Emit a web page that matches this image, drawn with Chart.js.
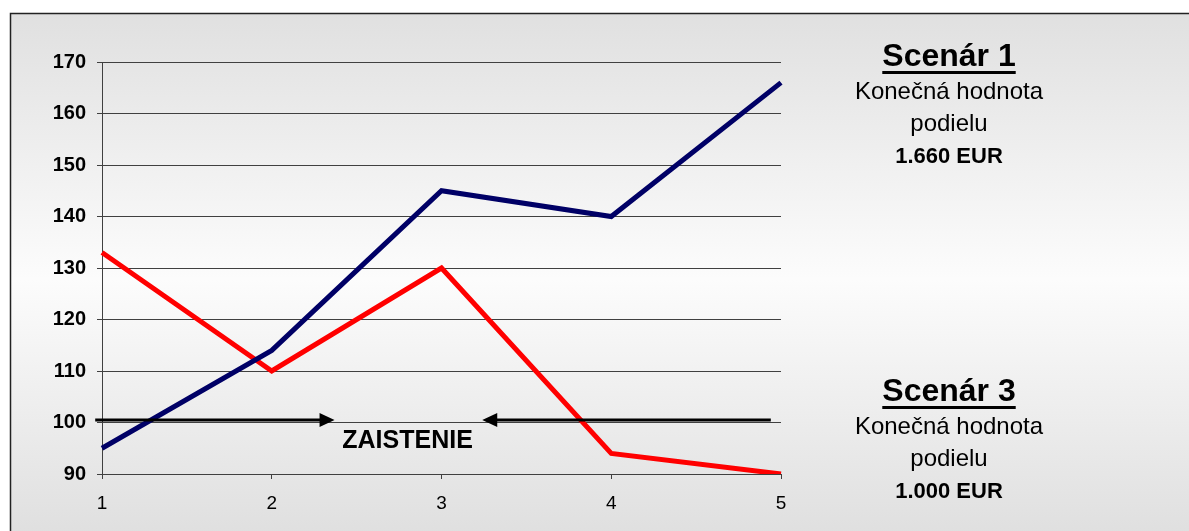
<!DOCTYPE html>
<html>
<head>
<meta charset="utf-8">
<script src="https://cdn.jsdelivr.net/npm/chart.js@4/dist/chart.umd.min.js"></script>
<style>
  body { margin: 0; background: #fff; }
  canvas { display: block; }
</style>
</head>
<body>
<canvas id="scenarChart" width="1189" height="531"></canvas>
<script>
// Dáta grafu
const obdobia = ['1', '2', '3', '4', '5'];
const scenar1 = [95, 114, 145, 140, 166];
const scenar3 = [133, 110, 130, 94, 90];
const yTicks = [90, 100, 110, 120, 130, 140, 150, 160, 170];
const zaistenie = 100.5;
const scenare = ['Scenár 1', 'Scenár 3'];
const hodnoty = ['1.660 EUR', '1.000 EUR'];

const FONT = '"Liberation Sans", Arial, sans-serif';

// Pozadie s prechodom a rámik
const pozadie = {
    id: 'pozadie',
    beforeDraw(chart) {
        const ctx = chart.ctx;
        ctx.save();
        ctx.fillStyle = '#ffffff';
        ctx.fillRect(0, 0, chart.width, chart.height);
        const g = ctx.createLinearGradient(0, 13, 0, 545);
        g.addColorStop(0, '#e0e0e0');
        g.addColorStop(0.5, '#fcfcfc');
        g.addColorStop(1, '#dedede');
        ctx.fillStyle = g;
        ctx.fillRect(10, 13, chart.width - 10, chart.height - 13);
        ctx.strokeStyle = '#222222';
        ctx.lineWidth = 1.5;
        ctx.beginPath();
        ctx.moveTo(10.5, chart.height);
        ctx.lineTo(10.5, 13.5);
        ctx.lineTo(chart.width, 13.5);
        ctx.stroke();
        ctx.restore();
    }
};

// Čiara zaistenia so šípkami a popisy scenárov
const popisy = {
    id: 'popisy',
    afterDatasetsDraw(chart) {
        const ctx = chart.ctx;
        const x = chart.scales.x, y = chart.scales.y;
        const ly = y.getPixelForValue(zaistenie);
        const x0 = x.getPixelForValue(-0.04);
        const a1 = x.getPixelForValue(1.37);
        const a2 = x.getPixelForValue(2.24);
        const x1 = x.getPixelForValue(3.94);
        ctx.save();
        ctx.strokeStyle = '#000';
        ctx.fillStyle = '#000';
        ctx.lineWidth = 3;
        ctx.beginPath();
        ctx.moveTo(x0, ly); ctx.lineTo(a1 - 14, ly);
        ctx.moveTo(a2 + 14, ly); ctx.lineTo(x1, ly);
        ctx.stroke();
        // šípky
        ctx.beginPath();
        ctx.moveTo(a1, ly); ctx.lineTo(a1 - 15, ly - 7); ctx.lineTo(a1 - 15, ly + 7); ctx.closePath();
        ctx.moveTo(a2, ly); ctx.lineTo(a2 + 15, ly - 7); ctx.lineTo(a2 + 15, ly + 7); ctx.closePath();
        ctx.fill();
        ctx.font = 'bold 25px ' + FONT;
        ctx.textAlign = 'center';
        ctx.textBaseline = 'middle';
        ctx.fillText('ZAISTENIE', x.getPixelForValue(1.80), ly + 21);

        // texty vpravo
        const cx = chart.chartArea.right + 168;
        const tops = [57, 392];
        scenare.forEach((s, i) => {
            const t = tops[i];
            ctx.font = 'bold 32px ' + FONT;
            ctx.fillText(s, cx, t);
            const w = ctx.measureText(s).width;
            ctx.fillRect(cx - w / 2, t + 14, w, 3);
            ctx.font = '24px ' + FONT;
            ctx.fillText('Konečná hodnota', cx, t + 35);
            ctx.fillText('podielu', cx, t + 67);
            ctx.font = 'bold 22px ' + FONT;
            ctx.fillText(hodnoty[i], cx, t + 100);
        });
        ctx.restore();
    }
};

const ctx = document.getElementById('scenarChart').getContext('2d');
new Chart(ctx, {
    type: 'line',
    data: {
        labels: obdobia,
        datasets: [{
            label: scenare[0],
            data: scenar1,
            borderColor: '#000066',
            borderWidth: 5,
            pointRadius: 0,
            tension: 0
        }, {
            label: scenare[1],
            data: scenar3,
            borderColor: '#ff0000',
            borderWidth: 5,
            pointRadius: 0,
            tension: 0
        }]
    },
    options: {
        responsive: false,
        animation: false,
        devicePixelRatio: 1,
        layout: { padding: { left: 0, right: 408, top: 62, bottom: 0 } },
        plugins: {
            legend: { display: false },
            tooltip: { enabled: false }
        },
        scales: {
            x: {
                grid: { drawOnChartArea: false, color: '#404040', tickLength: 5 },
                border: { color: '#404040' },
                ticks: { color: '#000', font: { family: FONT, size: 19 }, padding: 13, maxRotation: 0 },
                afterFit(scale) { scale.height = 57; }
            },
            y: {
                min: 90,
                max: 170,
                afterBuildTicks(scale) { scale.ticks = yTicks.map(v => ({ value: v })); },
                grid: { color: '#404040', tickLength: 5 },
                border: { color: '#404040' },
                ticks: { color: '#000', font: { family: FONT, size: 20, weight: 'bold' }, padding: 11 },
                afterFit(scale) { scale.width = 102; }
            }
        }
    },
    plugins: [pozadie, popisy]
});
</script>
</body>
</html>
